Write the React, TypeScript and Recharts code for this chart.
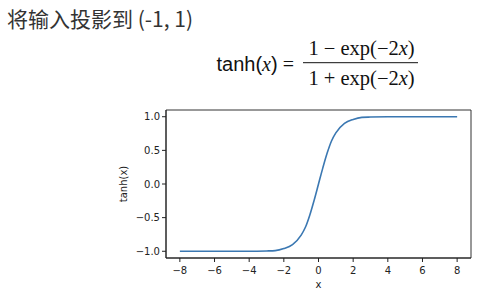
import { LineChart, Line, XAxis, YAxis, ReferenceArea } from 'recharts'

// values
const xs = [-8, -7, -6, -5, -4, -3, -2.5, -2, -1.5, -1, -0.75, -0.5, -0.25, 0, 0.25, 0.5, 0.75, 1, 1.5, 2, 2.5, 3, 4, 5, 6, 7, 8]
const ys = [-1, -1, -1, -1, -1, -0.995, -0.99, -0.96, -0.9, -0.76, -0.64, -0.46, -0.24, 0, 0.24, 0.46, 0.64, 0.76, 0.9, 0.96, 0.99, 0.995, 1, 1, 1, 1, 1]
const xTicks = [-8, -6, -4, -2, 0, 2, 4, 6, 8]
const yTicks = [-1, -0.5, 0, 0.5, 1]
const xDomain: [number, number] = [-8.8, 8.8]
const yDomain: [number, number] = [-1.1, 1.1]

const data = xs.map((x, i) => ({ x, y: ys[i] }))

const tickFont = { fontFamily: 'DejaVu Sans', fontSize: 10, fill: '#222' }
const fmt = (v: number) => (v < 0 ? '\u2212' + Math.abs(v) : String(v))
const fmtY = (v: number) => (v < 0 ? '\u2212' + Math.abs(v).toFixed(1) : v.toFixed(1))

export default function App() {
  return (
    <div style={{ position: 'absolute', left: 0, top: 0, width: 497, height: 296, background: '#fff' }}>
      <LineChart
        width={497}
        height={296}
        data={data}
        margin={{ top: 110, right: 26, bottom: 8, left: 116 }}
      >
        <XAxis
          dataKey="x"
          type="number"
          domain={xDomain}
          ticks={xTicks}
          tickFormatter={fmt}
          allowDataOverflow
          height={30}
          tickSize={4}
          tickMargin={5}
          tick={tickFont}
          stroke="#222"
          label={{ value: 'x', position: 'insideBottom', offset: 0, style: { fontFamily: 'DejaVu Sans', fontSize: 10, fill: '#222' } }}
        />
        <YAxis
          type="number"
          domain={yDomain}
          ticks={yTicks}
          tickFormatter={fmtY}
          allowDataOverflow
          width={50}
          tickSize={4}
          tickMargin={2}
          tick={tickFont}
          stroke="#222"
          label={{ value: 'tanh(x)', angle: -90, position: 'insideLeft', offset: 7, style: { textAnchor: 'middle', fontFamily: 'DejaVu Sans', fontSize: 10, fill: '#222' } }}
        />
        <ReferenceArea x1={xDomain[0]} x2={xDomain[1]} y1={yDomain[0]} y2={yDomain[1]} fill="none" stroke="#333" strokeOpacity={1} ifOverflow="visible" />
        <Line type="monotone" dataKey="y" stroke="#3b78b2" strokeWidth={1.6} dot={false} isAnimationActive={false} />
      </LineChart>
      <svg width={497} height={296} style={{ position: 'absolute', left: 0, top: 0, pointerEvents: 'none' }}>
        <text x={7} y={26.5} fontFamily="Noto Sans CJK SC" fontSize={21} fill="#333">将输入投影到 (-1, 1)</text>
        <text x={216.5} y={71} fontSize={20} fill="#111">
          <tspan fontFamily="Liberation Sans">tanh(</tspan>
          <tspan fontFamily="Liberation Serif" fontStyle="italic">x</tspan>
          <tspan fontFamily="Liberation Sans">)</tspan>
          <tspan fontFamily="Liberation Serif"> = </tspan>
        </text>
        <line x1={303} x2={418} y1={62.7} y2={62.7} stroke="#111" strokeWidth={1} />
        <text x={361.5} y={55} textAnchor="middle" fontFamily="Liberation Serif" fontSize={20.5} fill="#111">
          1 {'\u2212'} exp({'\u2212'}2<tspan fontStyle="italic">x</tspan>)
        </text>
        <text x={361.5} y={85} textAnchor="middle" fontFamily="Liberation Serif" fontSize={20.5} fill="#111">
          1 + exp({'\u2212'}2<tspan fontStyle="italic">x</tspan>)
        </text>
      </svg>
    </div>
  )
}
